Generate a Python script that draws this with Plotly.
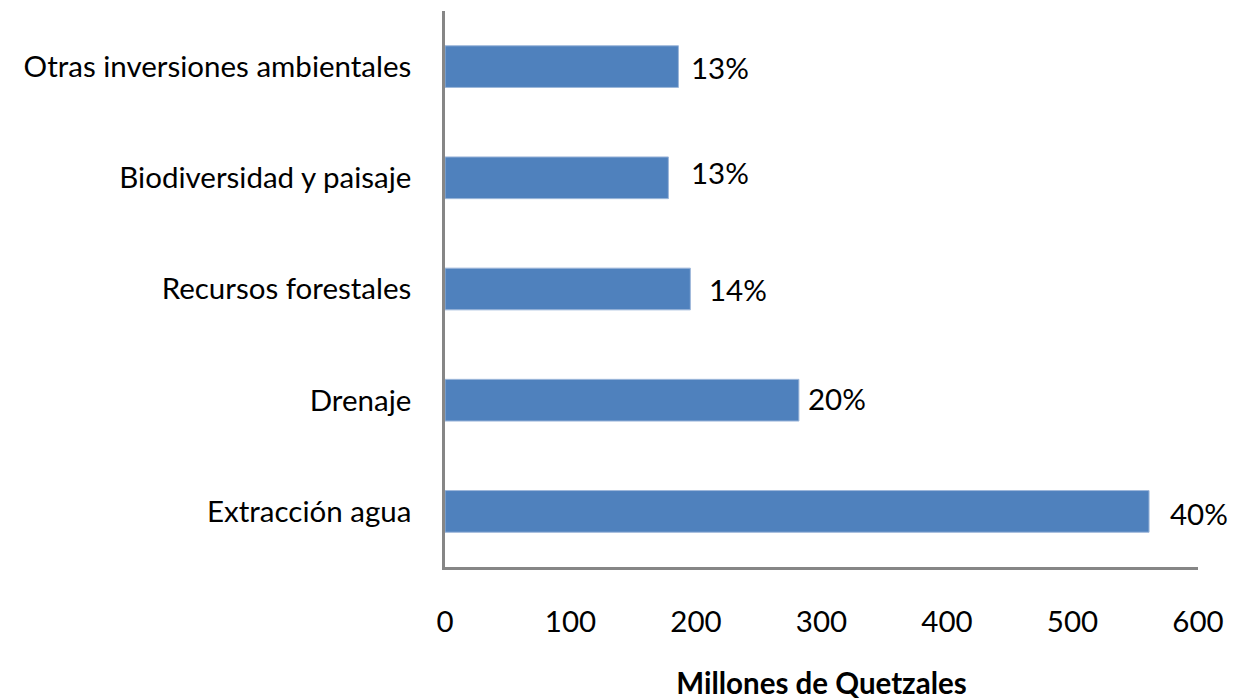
import plotly.graph_objects as go

categories = ["Extracción agua", "Drenaje", "Recursos forestales",
              "Biodiversidad y paisaje", "Otras inversiones ambientales"]
values = [561, 282, 195.5, 178, 186]
pct_labels = ["40%", "20%", "14%", "13%", "13%"]

# label offsets (pixels) as styled in the reference
label_xshift = [19, 7, 17, 21, 11]
label_yshift = [-2, 2, 0, 5, -1]

FONT = "Lato"
FS = 29.5
fig = go.Figure(go.Bar(
    x=values, y=categories, orientation="h",
    marker=dict(color="#4F81BD", line=dict(color="#9DB7DA", width=1)),
    width=0.375, hoverinfo="x+y",
))

for c, v, t, dx, dy in zip(categories, values, pct_labels, label_xshift, label_yshift):
    fig.add_annotation(x=v, y=c, text=t, showarrow=False, xanchor="left",
                       xshift=dx, yshift=dy,
                       font=dict(family=FONT, size=FS, color="#000000"))

# page body has an 8px default margin; figure sized to fit the 1243x700 window
fig.update_layout(
    width=1235, height=692,
    margin=dict(l=437, r=45, t=3, b=133),
    plot_bgcolor="white", paper_bgcolor="white",
    showlegend=False,
    font=dict(family=FONT, size=FS, color="#000000"),
    xaxis=dict(range=[0, 600], dtick=100, showgrid=False, zeroline=False,
               showline=True, linecolor="#868686", linewidth=2.5,
               ticks="", ticklabelstandoff=27, automargin=False,
               tickfont=dict(family=FONT, size=FS),
               title=dict(text="<b>Millones de Quetzales</b>", standoff=46,
                          font=dict(family=FONT, size=FS))),
    yaxis=dict(showgrid=False, zeroline=False, showline=True,
               linecolor="#868686", linewidth=2.5, ticks="", automargin=False,
               ticklabelstandoff=25, range=[-0.5, 4.5],
               tickfont=dict(family=FONT, size=FS)),
)

fig.write_html("out.html")
